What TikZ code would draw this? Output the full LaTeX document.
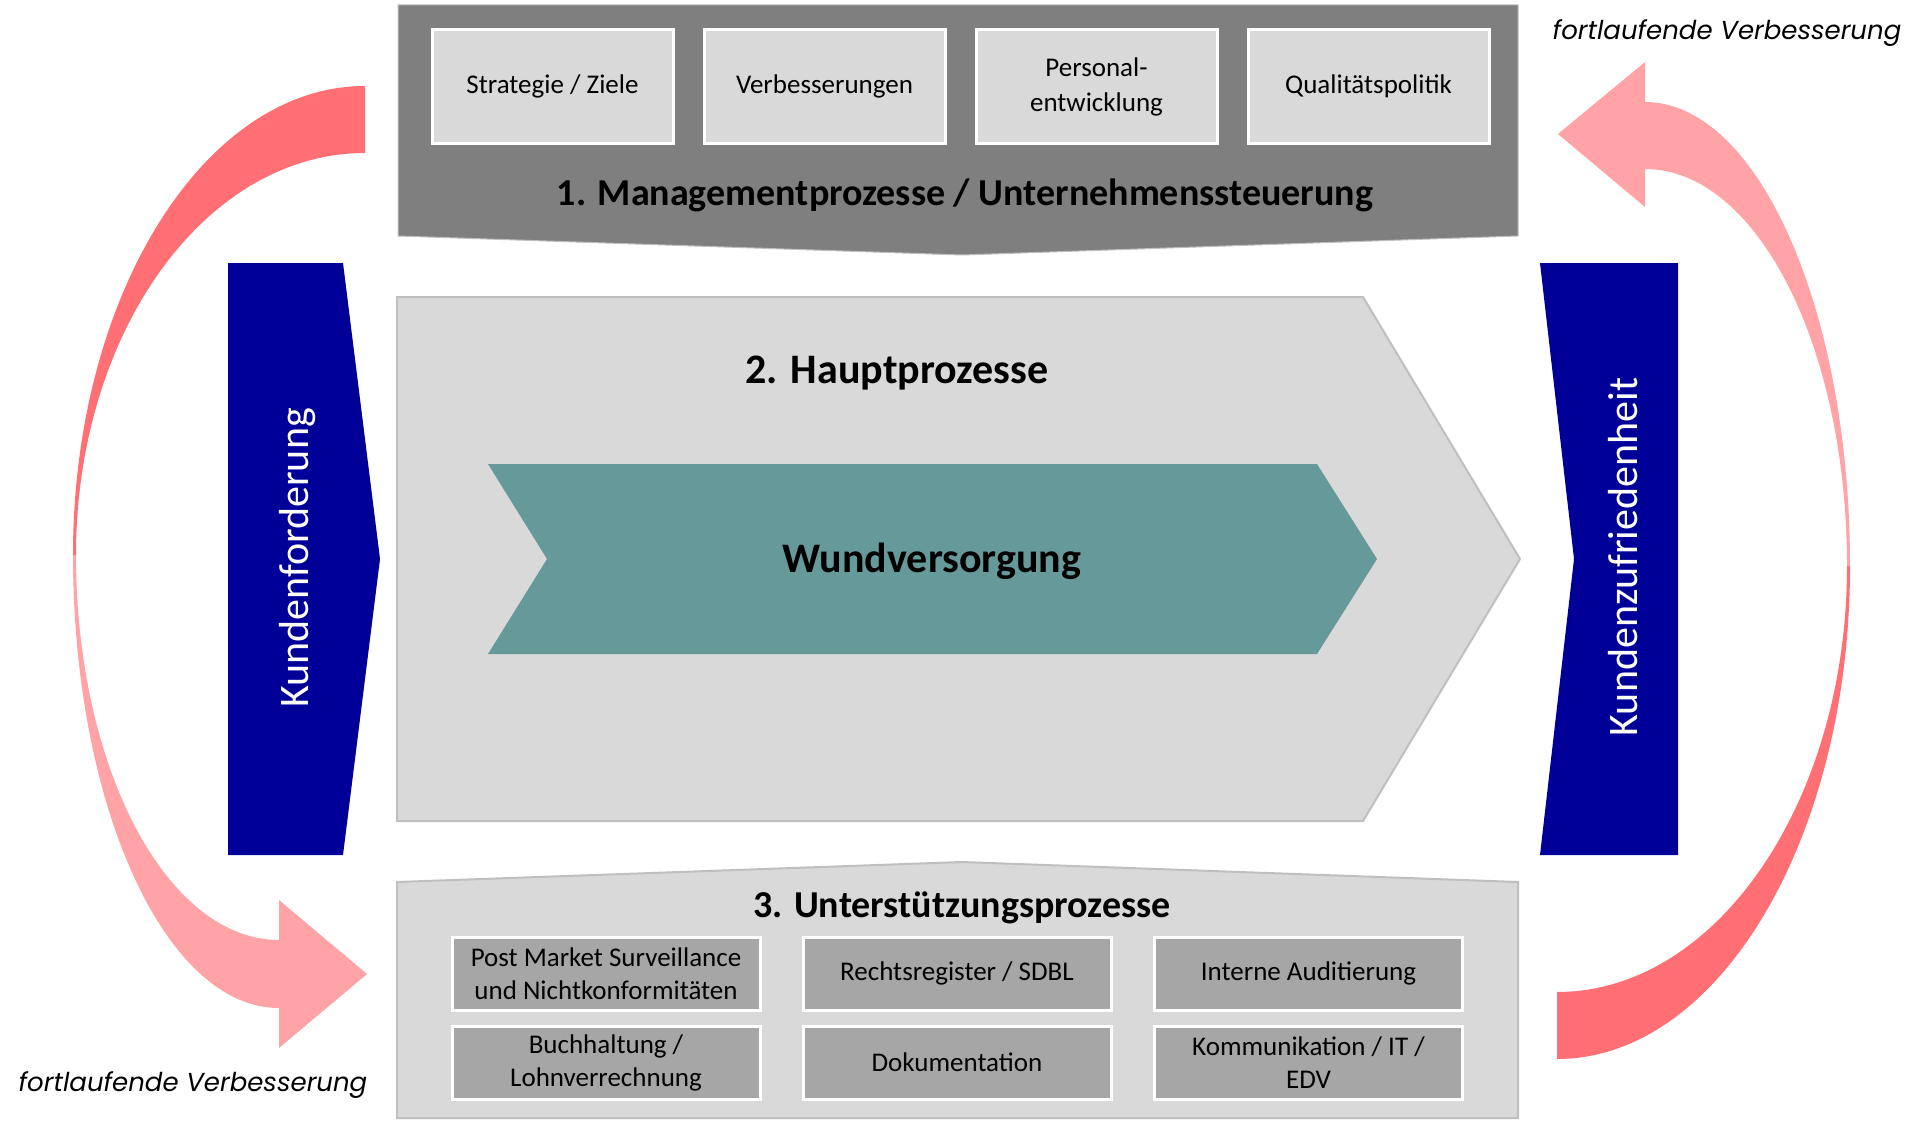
\documentclass[tikz,border=0pt]{standalone}
\usepackage{fontspec}
\setmainfont{Carlito}
\newfontfamily\cgfont{Poppins}
\definecolor{bandgray}{HTML}{7F7F7F}
\definecolor{lgray}{HTML}{D9D9D9}
\definecolor{mgray}{HTML}{A6A6A6}
\definecolor{edgegray}{HTML}{BFBFBF}
\definecolor{teal2}{HTML}{669999}
\definecolor{kblue}{HTML}{000099}
\definecolor{rdark}{HTML}{FF6F74}
\definecolor{rlight}{HTML}{FFA3A6}
\begin{document}
\begin{tikzpicture}[x=1pt,y=-1pt,
  tbox/.style={draw=white, line width=3pt, fill=lgray, minimum width=241pt, minimum height=113pt, inner sep=0pt, align=center, font=\fontsize{27}{35}\selectfont, text=black},
  bbox/.style={draw=white, line width=3pt, fill=mgray, minimum width=308pt, minimum height=73pt, inner sep=0pt, align=center, font=\fontsize{27}{33}\selectfont, text=black},
  ttl/.style={font=\bfseries\fontsize{38}{46}\selectfont, anchor=base, text=black},
  bigttl/.style={font=\bfseries\fontsize{42}{50}\selectfont, anchor=base, text=black},
  vtext/.style={font=\fontsize{42}{50}\selectfont, rotate=90, anchor=base, text=white},
  loop/.style={font=\cgfont\itshape\fontsize{26}{32}\selectfont, text=black}]
\useasboundingbox (0,0) rectangle (1920,1124);
\fill[white] (0,0) rectangle (1920,1124);

% left improvement arrow
\fill[rdark] (365,86) .. controls (204,86) and (73,296) .. (73,555)
  -- (76,555) .. controls (76,333) and (205,153) .. (365,153) -- cycle;
\fill[rlight] (73,555) .. controls (73,805) and (165,1008) .. (279,1008)
  -- (279,1048) -- (367,974) -- (279,900) -- (279,940)
  .. controls (167,940) and (76,768) .. (76,555) -- cycle;

% right improvement arrow
\fill[rlight] (1645,102) .. controls (1758,102) and (1850,310) .. (1850,566)
  -- (1847,566) .. controls (1847,347) and (1757,169) .. (1645,169)
  -- (1645,207) -- (1558,134) -- (1645,62) -- cycle;
\fill[rdark] (1850,566) .. controls (1850,838) and (1719,1059) .. (1557,1059)
  -- (1557,992) .. controls (1717,992) and (1847,801) .. (1847,566) -- cycle;

% 1. management band
\filldraw[fill=bandgray, draw=edgegray, line width=1pt]
  (398,5) -- (1518,5) -- (1518,236) -- (962,255) -- (398,236) -- cycle;
\node[tbox] (s1) at (552.5,86.5) {Strategie / Ziele};
\node[tbox] (s2) at (824.5,86.5) {Verbesserungen};
\node[tbox] (s3) at (1096.5,86.5) {Personal-\\entwicklung};
\node[tbox] (s4) at (1368.5,86.5) {Qualitätspolitik};
\node[ttl] (mgmt) at (965,205) {1. Managementprozesse / Unternehmenssteuerung};

% 2. main processes
\filldraw[fill=lgray, draw=edgegray, line width=2pt]
  (397,297) -- (1363,297) -- (1520,559) -- (1363,821) -- (397,821) -- cycle;
\node[bigttl] (haupt) at (897,383) {2. Hauptprozesse};
\fill[teal2] (488,464) -- (1317,464) -- (1377,559) -- (1317,654) -- (488,654) -- (547,559) -- cycle;
\node[bigttl] (wund) at (932,572) {Wundversorgung};

% customer arrows
\fill[kblue] (228,263) -- (343,263) -- (380,559) -- (343,855) -- (228,855) -- cycle;
\node[vtext] (kf) at (308,558) {Kundenforderung};
\fill[kblue] (1540,263) -- (1678,263) -- (1678,855) -- (1540,855) -- (1574,559) -- cycle;
\node[vtext] (kz) at (1637,557) {Kundenzufriedenheit};

% 3. support processes
\filldraw[fill=lgray, draw=edgegray, line width=2pt]
  (397,882) -- (962,862) -- (1518,882) -- (1518,1118) -- (397,1118) -- cycle;
\node[ttl] (unter) at (962,917) {3. Unterstützungsprozesse};
\node[bbox] (b1) at (606,973.5) {Post Market Surveillance\\und Nichtkonformitäten};
\node[bbox] (b2) at (957,973.5) {Rechtsregister / SDBL};
\node[bbox] (b3) at (1308.5,973.5) {Interne Auditierung};
\node[bbox] (b4) at (606,1062.5) {Buchhaltung /\\Lohnverrechnung};
\node[bbox] (b5) at (957,1062.5) {Dokumentation};
\node[bbox] (b6) at (1308.5,1062.5) {Kommunikation / IT /\\EDV};

% loop labels
\node[loop] (fv1) at (1727,33) {fortlaufende Verbesserung};
\node[loop] (fv2) at (193,1085) {fortlaufende Verbesserung};
\end{tikzpicture}
\end{document}
